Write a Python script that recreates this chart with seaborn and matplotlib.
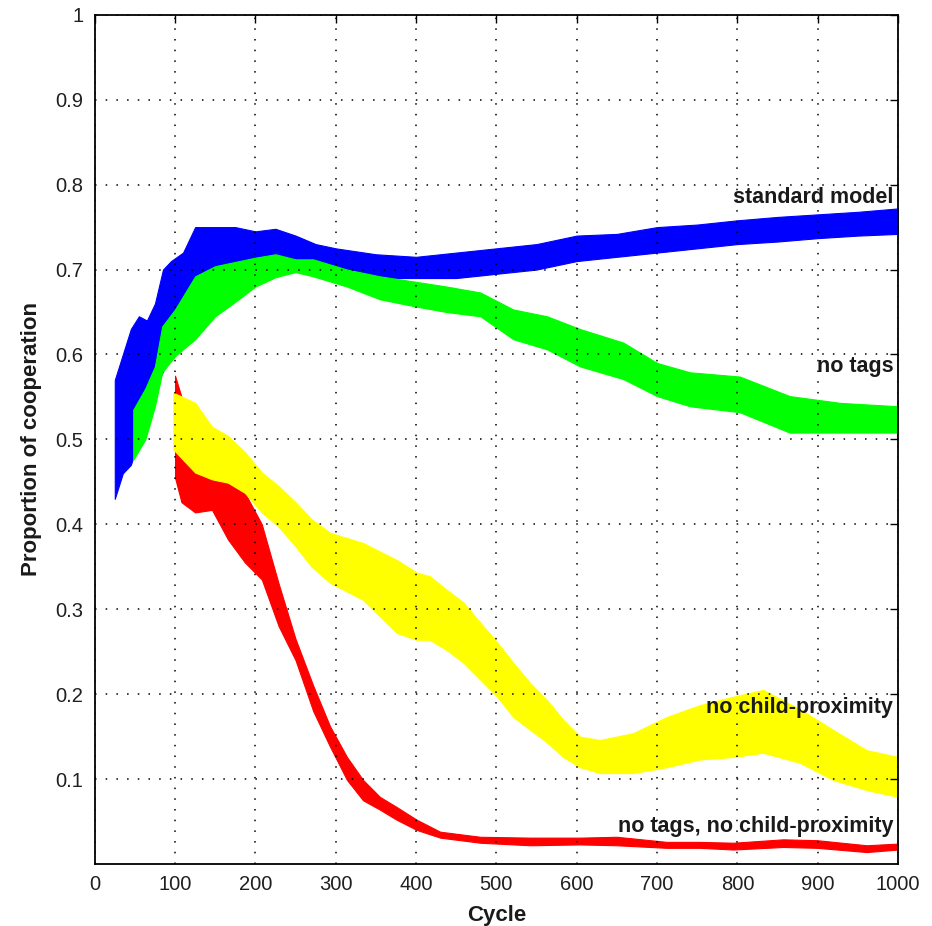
import matplotlib
matplotlib.use('Agg')
import matplotlib.pyplot as plt
import seaborn as sns
import pandas as pd

# band envelopes (lower / upper edge per cycle)
cycle_std = [25, 35, 45, 55, 65, 75, 85, 95, 110, 125, 150, 175, 200, 225, 250, 275,
             300, 350, 400, 450, 500, 550, 600, 650, 700, 750, 800, 850, 900, 950, 1000]
std_high = [0.57, 0.60, 0.63, 0.645, 0.64, 0.66, 0.70, 0.71, 0.72, 0.75, 0.75, 0.75, 0.745,
            0.748, 0.74, 0.73, 0.725, 0.718, 0.715, 0.72, 0.725, 0.73, 0.74, 0.742, 0.75,
            0.753, 0.758, 0.762, 0.765, 0.768, 0.772]
std_low = [0.43, 0.46, 0.47, 0.50, 0.55, 0.56, 0.58, 0.60, 0.63, 0.66, 0.68, 0.70, 0.705,
           0.71, 0.71, 0.70, 0.695, 0.69, 0.69, 0.69, 0.695, 0.70, 0.71, 0.715, 0.72,
           0.725, 0.73, 0.733, 0.737, 0.74, 0.742]

cycle_notags = [48, 63, 75, 84, 100, 125, 150, 175, 200, 225, 250, 272, 314, 355, 397, 438,
                480, 521, 563, 604, 658, 700, 741, 803, 865, 928, 1000]
notags_high = [0.535, 0.56, 0.586, 0.633, 0.653, 0.692, 0.704, 0.709, 0.714, 0.718, 0.712,
               0.712, 0.70, 0.692, 0.686, 0.68, 0.673, 0.653, 0.645, 0.63, 0.614, 0.59,
               0.579, 0.574, 0.551, 0.543, 0.539]
notags_low = [0.476, 0.50, 0.539, 0.579, 0.598, 0.618, 0.645, 0.662, 0.68, 0.691, 0.697,
              0.692, 0.68, 0.665, 0.657, 0.65, 0.645, 0.618, 0.606, 0.586, 0.571, 0.551,
              0.539, 0.532, 0.508, 0.508, 0.508]

cycle_nochild = [98, 125, 146, 166, 187, 208, 229, 250, 270, 293, 334, 376, 401, 417, 438,
                 459, 480, 501, 521, 542, 563, 583, 604, 629, 670, 712, 753, 795, 832, 878,
                 919, 961, 1000]
nochild_high = [0.555, 0.543, 0.515, 0.504, 0.485, 0.461, 0.445, 0.426, 0.406, 0.39, 0.378,
                0.358, 0.343, 0.339, 0.323, 0.308, 0.284, 0.261, 0.237, 0.213, 0.193, 0.17,
                0.15, 0.146, 0.154, 0.173, 0.187, 0.197, 0.205, 0.182, 0.158, 0.134, 0.126]
nochild_low = [0.488, 0.461, 0.453, 0.449, 0.437, 0.414, 0.397, 0.374, 0.35, 0.331, 0.311,
               0.272, 0.264, 0.264, 0.252, 0.237, 0.217, 0.197, 0.173, 0.158, 0.143, 0.126,
               0.114, 0.107, 0.107, 0.114, 0.123, 0.126, 0.131, 0.119, 0.099, 0.087, 0.079]

cycle_both = [100, 108, 125, 146, 166, 187, 208, 229, 250, 272, 293, 314, 334, 355, 376, 401,
              430, 480, 542, 604, 650, 712, 753, 795, 857, 899, 961, 1000]
both_high = [0.575, 0.55, 0.50, 0.473, 0.46, 0.437, 0.40, 0.33, 0.265, 0.21, 0.162, 0.126,
             0.099, 0.079, 0.067, 0.052, 0.038, 0.032, 0.031, 0.031, 0.032, 0.026, 0.026,
             0.025, 0.029, 0.028, 0.022, 0.024]
both_low = [0.455, 0.426, 0.414, 0.417, 0.382, 0.355, 0.335, 0.28, 0.24, 0.18, 0.138, 0.099,
            0.075, 0.064, 0.052, 0.04, 0.031, 0.025, 0.022, 0.023, 0.022, 0.019, 0.019,
            0.017, 0.02, 0.019, 0.014, 0.017]

models = ['no tags, no child-proximity', 'no child-proximity', 'standard model', 'no tags']
colors = {'standard model': '#0000ff', 'no tags': '#00ff00',
          'no child-proximity': '#ffff00', 'no tags, no child-proximity': '#ff0000'}
label_y = {'standard model': 0.785, 'no tags': 0.586,
           'no child-proximity': 0.184, 'no tags, no child-proximity': 0.044}

series = {
    'standard model': (cycle_std, std_low, std_high),
    'no tags': (cycle_notags, notags_low, notags_high),
    'no child-proximity': (cycle_nochild, nochild_low, nochild_high),
    'no tags, no child-proximity': (cycle_both, both_low, both_high),
}

rows = []
for name, (xs, lo, hi) in series.items():
    for x, a, b in zip(xs, lo, hi):
        rows.append({'model': name, 'cycle': x, 'coop': a})
        rows.append({'model': name, 'cycle': x, 'coop': b})
df = pd.DataFrame(rows)

sns.set_theme(style='white')
plt.rcParams['font.family'] = ['Liberation Sans', 'DejaVu Sans']

fig = plt.figure(figsize=(9.32, 9.26), dpi=100)
ax = fig.add_axes([0.1016, 0.067, 0.862, 0.917])

# min..max band per cycle = the filled envelope (centre line hidden)
sns.lineplot(data=df, x='cycle', y='coop', hue='model', hue_order=models,
             palette=colors, estimator='mean', errorbar=('pi', 100),
             err_kws={'alpha': 1, 'linewidth': 0.8}, linewidth=0,
             legend=False, ax=ax)

for name in models:
    ax.text(994, label_y[name], name, ha='right', va='center',
            fontsize=15.5, fontweight='bold', color='#1a1a1a')

ax.set_xlim(0, 1000)
ax.set_ylim(0, 1)
ax.set_xticks(range(0, 1001, 100))
yt = [0.1, 0.2, 0.3, 0.4, 0.5, 0.6, 0.7, 0.8, 0.9, 1.0]
ax.set_yticks(yt)
ax.set_yticklabels(['0.1', '0.2', '0.3', '0.4', '0.5', '0.6', '0.7', '0.8', '0.9', '1'])
ax.grid(True, color='black', linestyle=(0, (1, 6)), linewidth=1.1)
ax.set_axisbelow(False)
ax.tick_params(direction='in', length=6, width=1, top=True, right=True,
               labelsize=14.5, colors='black', pad=8)
for lab in ax.get_xticklabels() + ax.get_yticklabels():
    lab.set_color('#202020')
for sp in ax.spines.values():
    sp.set_color('black')
    sp.set_linewidth(1.3)

ax.set_xlabel('Cycle', fontsize=16, fontweight='bold', color='#1a1a1a', labelpad=8)
ax.set_ylabel('Proportion of cooperation', fontsize=16, fontweight='bold',
              color='#1a1a1a', labelpad=10)

fig.savefig('out.png', dpi=100)
